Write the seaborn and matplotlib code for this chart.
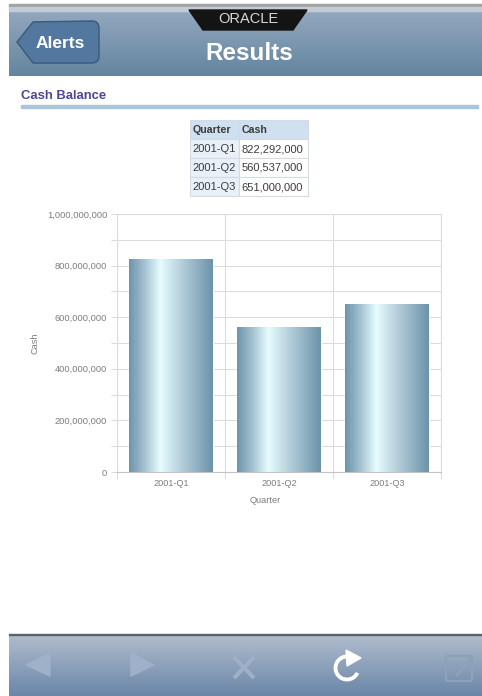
import numpy as np
import pandas as pd
import matplotlib
matplotlib.use("Agg")
import matplotlib.pyplot as plt
import seaborn as sns
from matplotlib.patches import Arc, FancyBboxPatch, PathPatch, Polygon, Rectangle
from matplotlib.path import Path
from matplotlib.colors import LinearSegmentedColormap
from matplotlib.ticker import FuncFormatter, MultipleLocator

quarters = ["2001-Q1", "2001-Q2", "2001-Q3"]
cash = [822292000, 560537000, 651000000]

sns.set_theme(style="white")
plt.rcParams["font.family"] = ["Liberation Sans", "DejaVu Sans"]

GREY = "#7d7d7d"
GRID = "#dcdcdc"

fig = plt.figure(figsize=(4.82, 6.96), dpi=100)

# screen furniture, in pixel coordinates
ui = fig.add_axes([0, 0, 1, 1], zorder=0)
ui.set_xlim(0, 482)
ui.set_ylim(696, 0)
ui.axis("off")


def vgrad(y0, y1, top, bottom):
    cmap = LinearSegmentedColormap.from_list("g", [top, bottom])
    ui.imshow(np.linspace(0, 1, 64).reshape(-1, 1), cmap=cmap, aspect="auto",
              extent=(9, 482, y1, y0), zorder=1)


vgrad(10, 76, "#93a8bf", "#64859f")
vgrad(635, 696, "#b0bccd", "#6a86a8")
ui.set_xlim(0, 482)
ui.set_ylim(696, 0)
ui.add_patch(Rectangle((9, 4), 473, 2.5, color="#a3a3a3", zorder=2))
ui.add_patch(Rectangle((9, 6.5), 473, 4, color="#c2cbd6", zorder=2))
ui.add_patch(Rectangle((9, 633.5), 473, 1.5, color="#5a626c", zorder=2))

# Oracle badge
ui.add_patch(Polygon([(189, 10), (307, 10), (293, 30), (203, 30)], color="#141414", zorder=3))
ui.text(248, 19, "ORACLE", color="#d8d8d8", fontsize=10.5, ha="center", va="center", zorder=4)

# back button
back = Path(
    [(17, 42), (33, 22), (92, 21), (99, 21), (99, 28), (99, 56), (99, 63), (92, 63), (33, 63), (17, 42)],
    [Path.MOVETO, Path.LINETO, Path.LINETO, Path.CURVE3, Path.CURVE3, Path.LINETO,
     Path.CURVE3, Path.CURVE3, Path.LINETO, Path.CLOSEPOLY],
)
ui.add_patch(PathPatch(back, facecolor="#52789f", edgecolor="#3f5c7c", lw=1.1, zorder=3))
ui.text(60, 43, "Alerts", color="white", fontsize=12.5, fontweight="bold",
        ha="center", va="center", zorder=4)
ui.text(249, 53, "Results", color="white", fontsize=17.5, fontweight="bold",
        ha="center", va="center", zorder=4)

# section heading
ui.text(21, 96, "Cash Balance", color="#4b4796", fontsize=9.4, fontweight="bold",
        ha="left", va="center", zorder=4)
ui.add_patch(Rectangle((21, 104.5), 457, 3, color="#a9c6dd", zorder=2))

# data table
col_x = [190, 239, 308]
row_y = [120, 139, 158, 177, 196]
rows = [["Quarter", "Cash"]] + [[q, f"{c:,}"] for q, c in zip(quarters, cash)]
for r, row in enumerate(rows):
    for c, txt in enumerate(row):
        x0, x1 = col_x[c], col_x[c + 1]
        y0, y1 = row_y[r], row_y[r + 1]
        face = "#cfe0f0" if r == 0 else ("#e8f0f8" if c == 0 else "white")
        ui.add_patch(Rectangle((x0, y0), x1 - x0, y1 - y0, facecolor=face,
                               edgecolor="#d5dbe2", lw=0.8, zorder=2))
        ui.text(x0 + 2.5, (y0 + y1) / 2 + 0.5, txt, color="#3c3c3c",
                fontsize=7.7 if r == 0 else 8.0,
                fontweight="bold" if r == 0 else "normal", ha="left", va="center", zorder=4)

# toolbar icons
dim = "#9fb1c8"
ui.add_patch(Polygon([(26, 665), (50, 653), (50, 676)], color=dim, zorder=3))
ui.add_patch(Polygon([(131, 653), (131, 676), (154, 665)], color=dim, zorder=3))
ui.plot([234, 254], [657, 678], color=dim, lw=3, zorder=3, solid_capstyle="butt")
ui.plot([234, 254], [678, 657], color=dim, lw=3, zorder=3, solid_capstyle="butt")
ui.add_patch(Arc((347, 668), 23, 23, theta1=25, theta2=275, color="white", lw=2.8, zorder=3))
ui.add_patch(Polygon([(346, 650), (361, 658), (347, 666)], color="white", zorder=3))
ui.add_patch(FancyBboxPatch((446, 656), 26, 25, boxstyle="round,pad=0,rounding_size=2",
                            fill=False, edgecolor="#8da1bb", lw=1.6, zorder=3))
ui.plot([457, 472], [675, 657], color="#8da1bb", lw=2.4, zorder=3)

# chart
ax = fig.add_axes([117 / 482, (696 - 472) / 696, 324 / 482, 258 / 696], zorder=2)
ax.patch.set_alpha(0)
df = pd.DataFrame({"Quarter": quarters, "Cash": cash})
sns.barplot(data=df, x="Quarter", y="Cash", ax=ax, width=0.77, color="#9fbccb",
            errorbar=None, zorder=3)

# bars have a metallic left-to-right shading
shade = LinearSegmentedColormap.from_list(
    "metal",
    [(0, "#6f95ad"), (0.18, "#a3c1d1"), (0.37, "#e6fcfe"), (0.62, "#b7d0dc"), (1, "#6c93aa")],
)
for bar in ax.patches:
    x, w, h = bar.get_x(), bar.get_width(), bar.get_height()
    ax.imshow(np.linspace(0, 1, 128).reshape(1, -1), cmap=shade, aspect="auto",
              extent=(x, x + w, 0, h), zorder=4)
ax.set_xlim(-0.5, 2.5)
ax.set_ylim(0, 1000000000)

ax.yaxis.set_major_locator(MultipleLocator(200000000))
ax.yaxis.set_minor_locator(MultipleLocator(100000000))
ax.yaxis.set_major_formatter(FuncFormatter(lambda v, _: f"{int(v):,}"))
ax.set_xticks([-0.5, 0.5, 1.5, 2.5], minor=True)
ax.grid(True, which="both", color=GRID, lw=0.8, zorder=1)
ax.grid(False, which="major", axis="x")
ax.set_axisbelow(True)
for s in ax.spines.values():
    s.set_color(GRID)
    s.set_linewidth(0.8)
ax.spines["bottom"].set_color("#c4c4c4")
ax.tick_params(axis="y", which="both", left=True, length=4, width=0.8, color=GRID,
               labelsize=6.7, labelcolor=GREY, pad=3)
ax.tick_params(axis="x", which="major", bottom=False, length=0, labelsize=6.6, labelcolor=GREY, pad=5)
ax.tick_params(axis="x", which="minor", bottom=True, length=5, width=0.8, color=GRID)
ax.set_xlabel("Quarter", fontsize=6.6, color=GREY, va="center")
ax.set_ylabel("Cash", fontsize=6.6, color=GREY, va="center")
ax.xaxis.set_label_coords(0.457, -0.112)
ax.yaxis.set_label_coords(-0.253, 0.5)

fig.savefig("out.png", dpi=100)
